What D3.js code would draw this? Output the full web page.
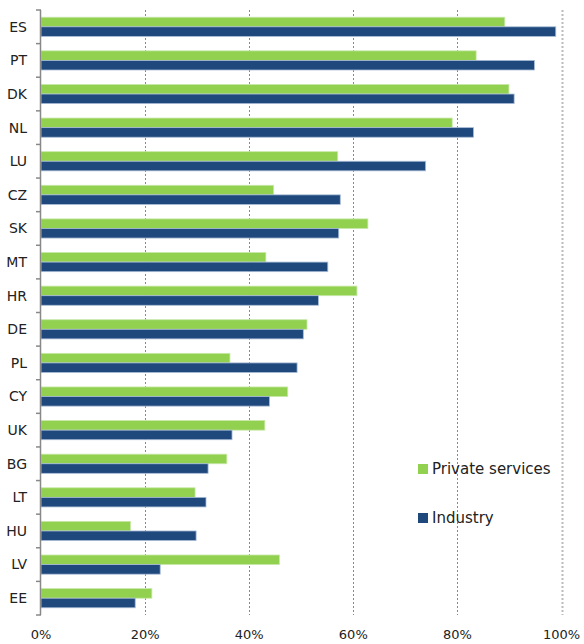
<!DOCTYPE html>
<html>
<head>
<meta charset="utf-8">
<script src="https://cdn.jsdelivr.net/npm/d3@7"></script>
<style>
	body { margin: 0; background: #fff; }
	svg { font-family: 'DejaVu Sans', sans-serif; }
	.grid line { stroke: #888; stroke-dasharray: 2,2; }
	.grid line.last { stroke: #bbb; stroke-width: 2; }
</style>
</head>
<body>
<div id="chart"></div>
<script>
const countries = ['ES', 'PT', 'DK', 'NL', 'LU', 'CZ', 'SK', 'MT', 'HR', 'DE', 'PL', 'CY', 'UK', 'BG', 'LT', 'HU', 'LV', 'EE'];
const privateServices = [89.1, 83.6, 89.9, 79.0, 57.0, 44.7, 62.8, 43.2, 60.7, 51.1, 36.3, 47.4, 43.0, 35.7, 29.6, 17.2, 45.8, 21.3];
const industry = [98.9, 94.8, 90.9, 83.1, 73.9, 57.5, 57.2, 55.1, 53.3, 50.4, 49.2, 43.9, 36.7, 32.1, 31.7, 29.8, 22.9, 18.1];
const xTicks = [0, 20, 40, 60, 80, 100];
const seriesNames = ['Private services', 'Industry'];
const colors = ['#92d050', '#1f497d'];

const width = 584, height = 644;
const margin = { top: 10, right: 22, bottom: 29, left: 41 };

const svg = d3.select('#chart').append('svg')
	.attr('width', width)
	.attr('height', height);

const xScale = d3.scaleLinear()
	.domain([0, 100])
	.range([margin.left, width - margin.right - 0.5]);

const yScale = d3.scaleBand()
	.domain(countries)
	.range([margin.top, height - margin.bottom])
	.paddingInner(0.43)
	.paddingOuter(0.215);

const inner = d3.scaleBand()
	.domain([0, 1])
	.range([0, yScale.bandwidth()]);

// gridlines
svg.append('g').attr('class', 'grid')
	.selectAll('line')
	.data(xTicks.slice(1))
	.join('line')
	.attr('class', d => d === 100 ? 'last' : null)
	.attr('x1', d => Math.round(xScale(d)) + 0.5)
	.attr('x2', d => Math.round(xScale(d)) + 0.5)
	.attr('y1', margin.top)
	.attr('y2', height - margin.bottom);

// bars
const rows = countries.map((c, i) => ({ country: c, values: [privateServices[i], industry[i]] }));
const groups = svg.append('g').selectAll('g')
	.data(rows)
	.join('g')
	.attr('transform', d => `translate(0, ${yScale(d.country)})`);

groups.selectAll('rect')
	.data(d => d.values.map((v, k) => ({ k, v })))
	.join('rect')
	.attr('x', xScale(0))
	.attr('y', d => inner(d.k))
	.attr('width', d => xScale(d.v) - xScale(0))
	.attr('height', inner.bandwidth())
	.attr('fill', d => colors[d.k])
	.attr('stroke', d => d.k ? '#a9bcd6' : '#c8e8a8')
	.attr('stroke-width', 0.8);

// y axis with ticks at band boundaries
const yAxis = svg.append('g').attr('class', 'y-scale');
const step = yScale.step();
const bounds = d3.range(countries.length + 1).map(i => margin.top + i * step);
yAxis.append('line')
	.attr('x1', margin.left - 0.5).attr('x2', margin.left - 0.5)
	.attr('y1', margin.top).attr('y2', height - margin.bottom)
	.attr('stroke', '#888').attr('stroke-width', 1.5);
yAxis.selectAll('line.tick')
	.data(bounds)
	.join('line')
	.attr('class', 'tick')
	.attr('x1', margin.left - 5).attr('x2', margin.left)
	.attr('y1', d => d).attr('y2', d => d)
	.attr('stroke', '#888').attr('stroke-width', 1.5);
yAxis.selectAll('text')
	.data(countries)
	.join('text')
	.attr('x', 27)
	.attr('y', d => yScale(d) + yScale.bandwidth() / 2)
	.attr('dy', '0.35em')
	.attr('text-anchor', 'end')
	.attr('font-size', 14)
	.attr('fill', '#222')
	.text(d => d);

// x tick labels
svg.append('g').selectAll('text')
	.data(xTicks)
	.join('text')
	.attr('x', d => xScale(d))
	.attr('y', 639)
	.attr('text-anchor', 'middle')
	.attr('font-size', 13)
	.attr('fill', '#222')
	.text(d => d + '%');

// legend
const legend = svg.append('g').selectAll('g')
	.data(seriesNames)
	.join('g')
	.attr('transform', (d, i) => `translate(418, ${469 + i * 49})`);
legend.append('rect')
	.attr('x', 0).attr('y', -5)
	.attr('width', 10).attr('height', 10)
	.attr('fill', (d, i) => colors[i]);
legend.append('text')
	.attr('x', 14)
	.attr('dy', '0.35em')
	.attr('font-size', 15)
	.attr('fill', '#222')
	.text(d => d);
</script>
</body>
</html>
